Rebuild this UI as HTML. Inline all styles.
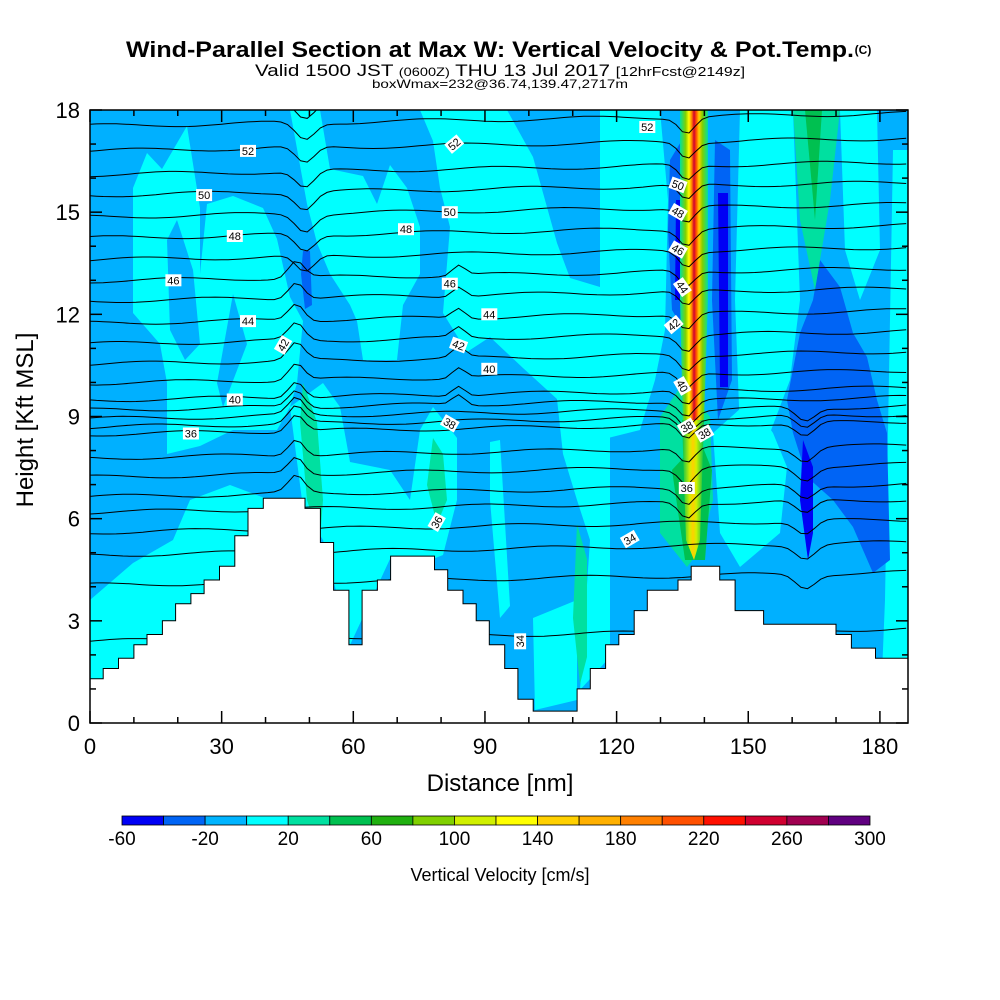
<!DOCTYPE html>
<html><head><meta charset="utf-8"><style>
body{margin:0;background:#fff}
svg{display:block}
text{font-family:"Liberation Sans",sans-serif}
</style></head><body>
<svg id="c" width="1000" height="1000" viewBox="0 0 1000 1000">
<defs><clipPath id="pc"><rect x="90" y="110" width="818" height="613"/></clipPath>
<linearGradient id="upd" x1="0" x2="1" y1="0" y2="0">
<stop offset="0" stop-color="#00e0a0"/><stop offset="0.2" stop-color="#80d000"/><stop offset="0.32" stop-color="#ffff00"/><stop offset="0.42" stop-color="#ff8000"/><stop offset="0.5" stop-color="#d00030"/><stop offset="0.58" stop-color="#ff5000"/><stop offset="0.68" stop-color="#ffd000"/><stop offset="0.8" stop-color="#80d000"/><stop offset="1" stop-color="#00e0a0"/></linearGradient>
<linearGradient id="updlow" x1="0" x2="1"><stop offset="0" stop-color="#00c050"/><stop offset="0.35" stop-color="#d0f000"/><stop offset="0.5" stop-color="#ffd000"/><stop offset="0.65" stop-color="#d0f000"/><stop offset="1" stop-color="#00c050"/></linearGradient>
</defs>
<g id="title">
<text x="490" y="57" font-size="22" font-weight="bold" text-anchor="middle" textLength="728" lengthAdjust="spacingAndGlyphs">Wind-Parallel Section at Max W: Vertical Velocity &amp; Pot.Temp.</text>
<text x="863" y="54" font-size="12" font-weight="bold" text-anchor="middle">(C)</text>
<text x="500" y="76" font-size="17" text-anchor="middle" textLength="490" lengthAdjust="spacingAndGlyphs">Valid 1500 JST <tspan font-size="12">(0600Z)</tspan> THU 13 Jul 2017 <tspan font-size="13">[12hrFcst@2149z]</tspan></text>
<text x="500" y="88" font-size="12" text-anchor="middle" textLength="256" lengthAdjust="spacingAndGlyphs">boxWmax=232@36.74,139.47,2717m</text>
</g>
<g clip-path="url(#pc)" id="field">
<rect x="90" y="110" width="818" height="613" fill="#00b0ff"/>
</g>
<g clip-path="url(#pc)" id="contours"></g>
<polygon id="terrain" fill="#fff" stroke="#000" stroke-width="1"/>
<g id="labels"></g>
<rect x="90" y="110" width="818" height="613" fill="none" stroke="#000" stroke-width="1.5"/>
<g id="axes"></g>
<text x="500" y="791" font-size="24" text-anchor="middle">Distance [nm]</text>
<text x="0" y="0" font-size="24" text-anchor="middle" transform="translate(33,420) rotate(-90)">Height [Kft MSL]</text>
<g id="cbar"></g>
<text x="500" y="881" font-size="18" text-anchor="middle">Vertical Velocity [cm/s]</text>
</svg>
<script>
const NS="http://www.w3.org/2000/svg";
const xTicks=[0,30,60,90,120,150,180];
const yTicks=[0,3,6,9,12,15,18];
const cbLevels=[-60,-40,-20,0,20,40,60,80,100,120,140,160,180,200,220,240,260,280,300];
const cbLabels=[-60,-20,20,60,100,140,180,220,260,300];
const cbColors=['#0000f5','#0064f5','#00b4ff','#00ffff','#00e0a0','#00c050','#20b010','#80d000','#d0f000','#ffff00','#ffd000','#ffb000','#ff8000','#ff5000','#ff1000','#d00030','#a00050','#600080'];
const thetaLevels=[32,32.5,33,33.5,34,34.5,35,35.5,36,37,38,39,40,41,42,43,44,45,46,47,48,49,50,51,52,53,54];
const thetaLeftH=[2.4,4.05,4.93,5.6,6.19,6.64,7.22,7.78,8.48,8.69,8.93,9.19,9.48,9.98,10.54,11.13,11.74,12.39,12.98,13.6,14.24,14.86,15.5,16.1,16.8,17.53,18.2];
const terrX=[0,3,3,6.5,6.5,10,10,13,13,16.5,16.5,19.5,19.5,23,23,26,26,29.5,29.5,33,33,36,36,39.5,39.5,49,49,52.5,52.5,55.5,55.5,59,59,62,62,65.5,65.5,68.5,68.5,78.5,78.5,81.5,81.5,85,85,88,88,91,91,94.5,94.5,97.5,97.5,101,101,111,111,114,114,117.5,117.5,120.5,120.5,124,124,127,127,134,134,137,137,143.5,143.5,147,147,153.5,153.5,170,170,173.5,173.5,179,179,186.4];
const terrH=[1.3,1.3,1.6,1.6,1.9,1.9,2.3,2.3,2.6,2.6,3.0,3.0,3.5,3.5,3.8,3.8,4.2,4.2,4.6,4.6,5.5,5.5,6.3,6.3,6.6,6.6,6.3,6.3,5.3,5.3,3.9,3.9,2.3,2.3,3.9,3.9,4.2,4.2,4.9,4.9,4.5,4.5,3.9,3.9,3.5,3.5,3.0,3.0,2.3,2.3,1.6,1.6,0.7,0.7,0.35,0.35,1.0,1.0,1.6,1.6,2.3,2.3,2.6,2.6,3.3,3.3,3.9,3.9,4.2,4.2,4.6,4.6,4.2,4.2,3.3,3.3,2.9,2.9,2.6,2.6,2.2,2.2,1.9,1.9];
const labelText=['52','52','50','48','48','46','44','42','40','36','38','36','34','34','52','50','48','46','44','42','40','38','38','50','46','42','44','40','36'];
const labelX=[36,83,26,33,72,19,36,44,33,23,82,79,98,123,127,134,134,134,135,133,135,140,136,82,82,84,91,91,136];
const labelY=[16.8,17.0,15.5,14.3,14.5,13.0,11.8,11.1,9.5,8.5,8.8,5.9,2.4,5.4,17.5,15.8,15.0,13.9,12.8,11.7,9.9,8.5,8.7,15.0,12.9,11.1,12.0,10.4,6.9];
const labelRot=[0,-40,0,0,0,0,0,-60,0,0,30,-60,-90,-30,0,20,30,30,55,-40,60,-30,-30,0,0,20,0,0,0];
const X0=90,X1=908,Y0=723,Y1=110,XMAX=186.4,YMAX=18;
const sx=v=>X0+v*(X1-X0)/XMAX;
const sy=v=>Y0-v*(Y0-Y1)/YMAX;
function el(t,a,p){const e=document.createElementNS(NS,t);for(const k in a)e.setAttribute(k,a[k]);(p||document.getElementById('c')).appendChild(e);return e;}
const fieldG=document.getElementById('field');
const patches=[
['#00ffff','133,188 147,153 162,169 187,126 200,208 200,274 207,204 233,196 263,208 277,239 290,297 303,321 297,383 290,407 277,430 233,430 200,446 167,454 167,383 160,344 133,313'],
['#00b0ff','167,240 177,220 193,270 200,344 185,360 170,330'],
['#00b0ff','217,383 233,294 247,344 223,407'],
['#00ffff','290,110 320,110 330,169 363,176 377,204 390,165 407,188 420,227 420,274 403,305 397,360 363,360 357,321 350,305 330,274 317,243 307,204'],
['#00ffff','420,110 507,110 533,157 557,243 570,278 610,290 610,547 590,540 577,500 563,454 557,399 523,368 490,337 467,352 443,313 450,227 440,188 433,141'],
['#00ffff','290,407 323,383 340,407 350,462 390,470 410,500 420,430 433,407 457,438 457,500 443,555 433,559 390,559 350,645 323,540 303,508'],
['#00ffff','90,600 133,563 173,540 190,500 230,485 270,500 270,723 90,723'],
['#00ffff','490,442 500,440 510,606 500,618 490,500'],
['#00ffff','533,618 577,600 577,700 535,710'],
['#00ffff','590,540 610,540 610,657 580,690'],
['#00ffff','600,110 660,110 668,200 665,330 655,380 640,430 600,440'],
['#00ffff','740,110 793,110 800,300 790,380 770,433 740,433 735,300'],
['#00ffff','840,110 877,110 880,250 860,300 845,250'],
['#00ffff','893,150 908,150 908,723 880,723 885,600'],
['#00ffff','713,433 750,400 773,433 787,467 780,533 740,567 720,533'],
['#0064f5','303,251 310,251 312,305 305,309 301,274'],
['#0064f5','820,260 840,287 853,333 867,357 877,400 887,433 890,560 873,573 853,527 833,500 807,477 793,433 787,400 800,333 813,300'],
['#0000f5','803,440 813,467 813,533 808,560 800,500'],
['#0064f5','670,160 682,140 684,330 672,310 668,230'],
['#0064f5','715,140 730,150 732,380 718,420 712,300'],
['#0000f5','718,193 728,193 728,387 720,387'],
['#0000f5','676,200 680,200 680,300 675,300'],
['#00e0a0','793,110 840,110 830,200 815,290 800,220'],
['#00c050','805,110 822,110 815,220'],
['#00e0a0','303,383 317,422 323,500 320,540 307,500 300,422'],
['#00e0a0','433,438 443,454 447,500 437,524 427,485'],
['#00e0a0','577,524 587,559 587,657 580,684 573,618'],
['#00e0a0','660,417 683,383 710,417 713,500 700,550 687,567 660,533'],
['#00c050','672,470 700,440 712,470 705,560 685,560'],
];
patches.forEach(([c,p])=>{const e=el('polygon',{points:p,fill:c},fieldG);

});
const up=el('polygon',{points:'680,110 708,110 708,300 704,420 702,470 684,470 680,300',fill:'url(#upd)'},fieldG);


const up2=el('polygon',{points:'682,420 704,420 700,540 694,560 686,540',fill:'url(#updlow)'},fieldG);


const cg=document.getElementById('contours');
function gauss(x,c,w){const d=(x-c)/w;return Math.exp(-(d*d));}
thetaLevels.forEach((lv,i)=>{
 const h0=thetaLeftH[i];const pts=[];
 for(let x=0;x<=186.4;x+=1.5){
  let h=h0+0.06*Math.sin(x*0.17+i*1.3)+0.002*x;
  if(h0>13)h-=0.5*gauss(x,49,3);
  if(h0>6.5&&h0<=13)h+=0.5*gauss(x,47,2.5);
  if(h0>6)h-=0.45*gauss(x,136,2.5);
  if(h0>9&&h0<13)h+=0.3*gauss(x,84,2);
  if(h0<9)h-=0.4*gauss(x,163,3);
  pts.push(sx(x).toFixed(1)+','+sy(h).toFixed(1));}
 const p=el('polyline',{points:pts.join(' '),fill:'none',stroke:'#000','stroke-width':1},cg);
 
 
});
const tp=terrX.map((x,i)=>sx(x).toFixed(1)+','+sy(terrH[i]).toFixed(1));
tp.push(sx(XMAX)+','+sy(0),sx(0)+','+sy(0));
document.getElementById('terrain').setAttribute('points',tp.join(' '));
const lg=document.getElementById('labels');
labelText.forEach((t,i)=>{
 const g=el('g',{transform:'translate('+sx(labelX[i]).toFixed(1)+','+sy(labelY[i]).toFixed(1)+') rotate('+labelRot[i]+')'},lg);
 
 
 el('rect',{x:-8,y:-6,width:16,height:12,fill:'#fff'},g);
 const tx=el('text',{x:0,y:4,'font-size':11,'text-anchor':'middle'},g);tx.textContent=t;
});
const ax=document.getElementById('axes');
for(let v=0;v<=186;v+=10){const X=sx(v),L=v%30===0?12:6;
 el('line',{x1:X,y1:Y0,x2:X,y2:Y0-L,stroke:'#000','stroke-width':1.5},ax);
 el('line',{x1:X,y1:Y1,x2:X,y2:Y1+L,stroke:'#000','stroke-width':1.5},ax);}
for(let v=0;v<=18;v+=1){const Y=sy(v),L=v%3===0?12:6;
 el('line',{x1:X0,y1:Y,x2:X0+L,y2:Y,stroke:'#000','stroke-width':1.5},ax);
 el('line',{x1:X1,y1:Y,x2:X1-L,y2:Y,stroke:'#000','stroke-width':1.5},ax);}
xTicks.forEach(v=>{const t=el('text',{x:sx(v),y:754,'font-size':22,'text-anchor':'middle'},ax);t.textContent=v;

});
yTicks.forEach(v=>{const t=el('text',{x:80,y:sy(v)+8,'font-size':22,'text-anchor':'end'},ax);t.textContent=v;

});
const cb=document.getElementById('cbar');const CB0=122,CB1=870,bw=(CB1-CB0)/cbColors.length;
cbColors.forEach((c,i)=>{const r=el('rect',{x:CB0+i*bw,y:816,width:bw,height:9,fill:c,stroke:'#000','stroke-width':0.8},cb);

});
cbLabels.forEach(v=>{const i=cbLevels.indexOf(v);const t=el('text',{x:CB0+i*bw,y:845,'font-size':19,'text-anchor':'middle'},cb);t.textContent=v;

});
</script>
</body></html>
